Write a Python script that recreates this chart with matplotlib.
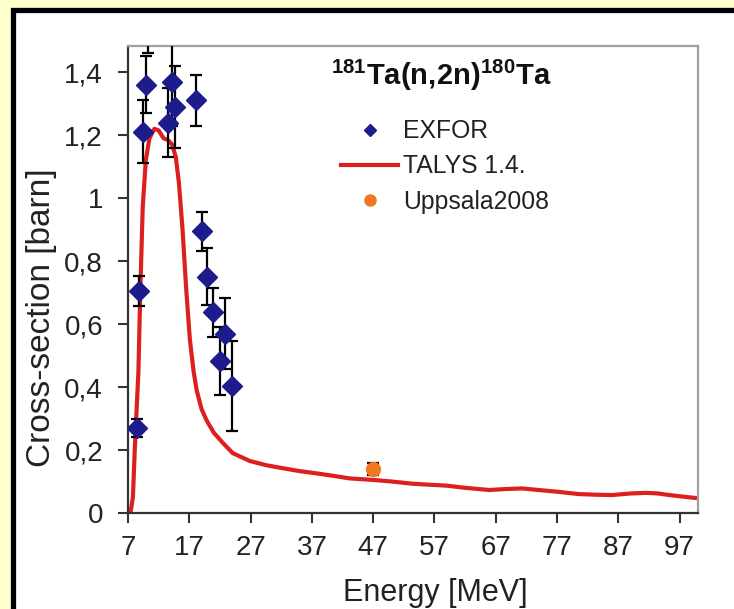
import matplotlib
matplotlib.use("Agg")
import matplotlib.pyplot as plt
from matplotlib.patches import Rectangle
from matplotlib.lines import Line2D

plt.rcParams["font.family"] = ["Liberation Sans", "DejaVu Sans"]
plt.rcParams["mathtext.fontset"] = "custom"
plt.rcParams["mathtext.rm"] = "Liberation Sans"
plt.rcParams["mathtext.bf"] = "Liberation Sans:bold"

# EXFOR measurements: energy [MeV], cross-section [barn], uncertainty
exfor_e = [8.4, 8.85, 9.4, 9.9, 10.2, 13.55, 14.1, 14.7, 18.05,
           19.0, 19.9, 20.9, 21.95, 22.9, 24.0]
exfor_s = [0.270, 0.705, 1.21, 1.36, 1.60, 1.24, 1.37, 1.29, 1.31,
           0.895, 0.750, 0.637, 0.482, 0.570, 0.403]
exfor_err = [0.028, 0.047, 0.10, 0.09, 0.14, 0.11, 0.14, 0.13, 0.08,
             0.062, 0.090, 0.078, 0.108, 0.113, 0.143]

# TALYS 1.4 calculation
talys_e = [7.4, 7.8, 8.1, 8.7, 9.0, 9.4, 9.9, 10.5, 11.3, 12.0, 12.8, 13.5,
           14.2, 14.8, 15.3, 15.9, 16.5, 17.1, 17.7, 18.2, 19.0, 19.8, 21.0,
           22.5, 24.1, 26.9, 29.5, 32.3, 35.0, 37.7, 40.5, 43.1, 47.0, 50.0,
           53.4, 56.0, 58.9, 62.0, 65.9, 68.5, 71.3, 74.0, 76.8, 80.6, 83.5,
           86.0, 89.0, 91.5, 93.5, 95.3, 98.0, 100.0]
talys_s = [0.0, 0.05, 0.2, 0.45, 0.7, 0.97, 1.12, 1.19, 1.22, 1.215, 1.19,
           1.185, 1.17, 1.13, 1.05, 0.90, 0.71, 0.55, 0.45, 0.39, 0.33, 0.295,
           0.255, 0.222, 0.19, 0.165, 0.152, 0.142, 0.133, 0.126, 0.118, 0.110,
           0.105, 0.100, 0.093, 0.090, 0.087, 0.080, 0.073, 0.076, 0.078,
           0.073, 0.068, 0.060, 0.058, 0.057, 0.062, 0.064, 0.062, 0.057,
           0.051, 0.047]

# Uppsala 2008 measurement
upp_e = [47.0]
upp_s = [0.14]
upp_err = [0.02]

x_ticks = [7, 17, 27, 37, 47, 57, 67, 77, 87, 97]
y_ticks = [0, 0.2, 0.4, 0.6, 0.8, 1.0, 1.2, 1.4]
y_tick_labels = ["0", "0,2", "0,4", "0,6", "0,8", "1", "1,2", "1,4"]

W, H = 734, 609
fig = plt.figure(figsize=(W / 100, H / 100), dpi=100)
fig.patch.set_facecolor("#FFFFCC")

# white panel with heavy black border
panel = Rectangle((12.5 / W, -0.1), 1.2, (H - 9.5) / H + 0.1,
                  transform=fig.transFigure, facecolor="white",
                  edgecolor="black", linewidth=3.8, zorder=-5)
fig.patches.append(panel)

ax = fig.add_axes([128 / W, (H - 513) / H, (698 - 128) / W, (513 - 46) / H])
ax.set_zorder(2)
ax.set_facecolor("white")

ax.plot(talys_e, talys_s, color="#DD1F1F", lw=3.0, zorder=2, clip_on=True)
ax.errorbar(exfor_e, exfor_s, yerr=exfor_err, fmt="D", color="#1C1C8C",
            ms=10, mec="#1C1C8C", ecolor="black", elinewidth=1.6,
            capsize=4.5, capthick=1.6, zorder=3)
ax.errorbar(upp_e, upp_s, yerr=upp_err, fmt="o", color="#F07820",
            ms=10, mec="#F07820", ecolor="black", elinewidth=1.6,
            capsize=4.5, capthick=1.6, zorder=3)

ax.set_xlim(7, 100)
ax.set_ylim(0, 1.483)
ax.set_xticks(x_ticks)
ax.set_yticks(y_ticks)
ax.set_yticklabels(y_tick_labels)
ax.tick_params(axis="both", direction="out", length=7, width=1.5,
               color="#333333", labelsize=20, labelcolor="#222222")
ax.tick_params(axis="y", pad=11)
ax.tick_params(axis="x", pad=9)

for side in ("left", "bottom"):
    ax.spines[side].set_color("#333333")
    ax.spines[side].set_linewidth(1.6)
for side in ("top", "right"):
    ax.spines[side].set_color("#A0A0A0")
    ax.spines[side].set_linewidth(1.6)

ax.set_xlabel("Energy [MeV]", fontsize=22, color="#222222")
ax.set_ylabel("Cross-section [barn]", fontsize=24, color="#222222")
ax.xaxis.set_label_coords((435 - 128) / 570, (513 - 578) / 467)
ax.yaxis.set_label_coords((57 - 128) / 570, (513 - 318) / 467)

ax.text((441 - 128) / 570, (513 - 75) / 467,
        r"$\mathbf{^{181}Ta(n,\!2n)^{180}Ta}$",
        transform=ax.transAxes, ha="center", va="center", fontsize=21,
        color="#111111")

handles = [
    Line2D([], [], ls="none", marker="D", ms=6, color="#1C1C8C"),
    Line2D([], [], color="#DD1F1F", lw=3.0),
    Line2D([], [], ls="none", marker="o", ms=8, color="#F07820"),
]
labels = ["EXFOR", "TALYS 1.4.", "Uppsala2008"]
leg = ax.legend(handles, labels, loc="upper left",
                bbox_to_anchor=(329 / W, (H - 107) / H),
                bbox_transform=fig.transFigure, frameon=False, fontsize=17.8,
                handlelength=2.3, handletextpad=0.2, labelspacing=0.45,
                borderpad=0)
for t in leg.get_texts():
    t.set_color("#222222")

fig.savefig("out.png", dpi=100, facecolor=fig.get_facecolor())
